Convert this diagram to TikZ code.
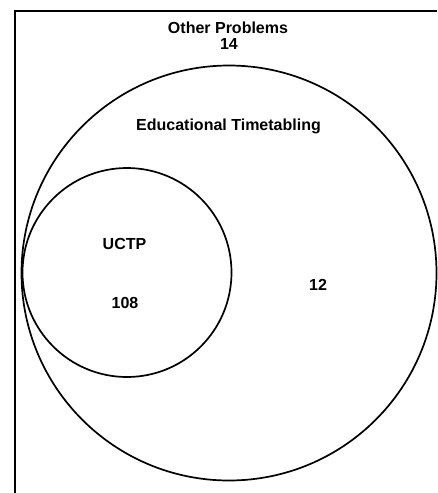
\documentclass[tikz,border=0pt]{standalone}
\usepackage{fontspec}
\setmainfont{Liberation Sans}
\tikzset{
  ring/.style={draw=black, line width=1.7pt},
  label/.style={font=\fontsize{16}{19}\selectfont\bfseries, inner sep=0pt, anchor=base},
}
\begin{document}
\begin{tikzpicture}[x=1pt, y=-1pt]
  \useasboundingbox (0,0) rectangle (437,493);
  % outer frame (top and left edges)
  \draw[line width=1.4pt] (437,11) -- (15,11) -- (15,493);
  % nested sets
  \draw[ring] (229,273) circle[radius=207.5];
  \draw[ring] (127,272.5) circle[radius=104.5];
  % labels
  \node[label] (other) at (228,33) {Other Problems};
  \node[label] (otherN) at (229,49) {14};
  \node[label] (edu) at (228.5,130) {Educational Timetabling};
  \node[label] (eduN) at (318,290) {12};
  \node[label] (uctp) at (124.5,249) {UCTP};
  \node[label] (uctpN) at (125,308) {108};
\end{tikzpicture}
\end{document}
